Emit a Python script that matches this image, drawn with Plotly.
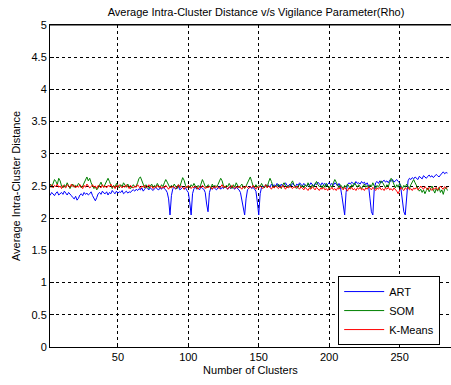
import plotly.graph_objects as go

art = [2.38,2.36,2.40,2.37,2.35,2.39,2.41,2.36,2.38,2.40,2.37,2.42,2.39,2.36,2.40,2.38,2.35,2.32,2.30,2.34,
       2.28,2.31,2.36,2.38,2.35,2.40,2.37,2.39,2.36,2.38,2.41,2.35,2.30,2.27,2.32,2.38,2.40,2.37,2.42,2.39,
       2.38,2.41,2.36,2.40,2.38,2.43,2.40,2.38,2.42,2.39,2.41,2.40,2.43,2.38,2.40,2.42,2.39,2.41,2.40,2.43,
       2.44,2.42,2.45,2.43,2.46,2.44,2.47,2.42,2.45,2.48,2.46,2.44,2.47,2.45,2.43,2.46,2.48,2.45,2.44,2.47,
       2.45,2.48,2.46,2.44,2.40,2.30,2.05,2.35,2.46,2.48,2.45,2.47,2.49,2.44,2.46,2.48,2.45,2.47,2.43,2.40,
       2.25,2.05,2.38,2.46,2.48,2.45,2.47,2.44,2.49,2.46,2.45,2.40,2.22,2.10,2.40,2.47,2.45,2.48,2.46,2.44,
       2.47,2.49,2.45,2.48,2.46,2.50,2.47,2.45,2.48,2.46,2.49,2.47,2.45,2.48,2.46,2.44,2.40,2.30,2.15,2.05,
       2.30,2.44,2.47,2.49,2.46,2.48,2.45,2.42,2.25,2.05,2.38,2.48,2.50,2.47,2.52,2.49,2.51,2.48,2.53,2.50,
       2.52,2.49,2.54,2.51,2.48,2.53,2.50,2.52,2.55,2.51,2.49,2.53,2.50,2.54,2.52,2.49,2.53,2.51,2.55,2.52,
       2.50,2.54,2.52,2.49,2.53,2.51,2.55,2.52,2.50,2.54,2.52,2.56,2.53,2.51,2.55,2.52,2.54,2.50,2.53,2.55,
       2.52,2.54,2.51,2.55,2.53,2.50,2.54,2.48,2.35,2.15,2.05,2.40,2.52,2.55,2.53,2.56,2.54,2.52,2.57,2.54,
       2.55,2.53,2.57,2.54,2.56,2.52,2.55,2.50,2.30,2.10,2.05,2.45,2.55,2.57,2.54,2.58,2.55,2.57,2.59,2.56,
       2.58,2.55,2.59,2.57,2.60,2.56,2.58,2.60,2.57,2.55,2.45,2.25,2.10,2.05,2.40,2.58,2.62,2.60,2.63,2.61,
       2.64,2.62,2.60,2.65,2.63,2.61,2.66,2.64,2.62,2.65,2.67,2.64,2.66,2.63,2.65,2.68,2.66,2.64,2.67,2.70,2.72,2.69,2.71,2.70]

som = [2.50,2.53,2.48,2.55,2.60,2.57,2.52,2.62,2.58,2.50,2.47,2.52,2.49,2.55,2.51,2.46,2.50,2.53,2.48,2.51,
       2.49,2.54,2.52,2.47,2.50,2.55,2.60,2.64,2.58,2.62,2.55,2.50,2.46,2.49,2.44,2.47,2.52,2.56,2.50,2.48,
       2.53,2.58,2.62,2.57,2.50,2.46,2.51,2.48,2.54,2.50,2.47,2.52,2.49,2.55,2.51,2.48,2.53,2.50,2.46,2.49,
       2.52,2.48,2.50,2.55,2.62,2.64,2.58,2.50,2.47,2.52,2.49,2.46,2.50,2.53,2.48,2.51,2.49,2.54,2.50,2.47,
       2.52,2.49,2.55,2.60,2.56,2.50,2.47,2.51,2.48,2.53,2.50,2.46,2.52,2.49,2.56,2.63,2.59,2.51,2.48,2.50,
       2.47,2.52,2.49,2.54,2.50,2.46,2.51,2.48,2.53,2.60,2.55,2.49,2.47,2.52,2.50,2.46,2.53,2.49,2.51,2.48,
       2.52,2.56,2.62,2.58,2.50,2.47,2.51,2.49,2.54,2.50,2.46,2.52,2.48,2.55,2.51,2.47,2.50,2.53,2.49,2.46,
       2.50,2.55,2.60,2.64,2.57,2.50,2.47,2.52,2.48,2.51,2.49,2.54,2.50,2.47,2.52,2.48,2.56,2.62,2.57,2.50,
       2.47,2.51,2.49,2.53,2.50,2.46,2.52,2.55,2.50,2.47,2.51,2.48,2.54,2.58,2.52,2.49,2.46,2.50,2.53,2.48,
       2.51,2.47,2.52,2.49,2.55,2.50,2.46,2.52,2.48,2.53,2.57,2.52,2.49,2.51,2.47,2.52,2.48,2.54,2.50,2.46,
       2.51,2.48,2.55,2.60,2.56,2.50,2.47,2.52,2.49,2.46,2.51,2.48,2.53,2.50,2.46,2.52,2.49,2.55,2.51,2.48,
       2.52,2.49,2.46,2.50,2.53,2.48,2.51,2.47,2.52,2.49,2.55,2.50,2.46,2.51,2.48,2.53,2.58,2.55,2.50,2.47,
       2.52,2.49,2.56,2.62,2.58,2.51,2.47,2.52,2.48,2.54,2.50,2.46,2.51,2.48,2.53,2.49,2.46,2.52,2.57,2.60,
       2.55,2.50,2.46,2.42,2.45,2.40,2.44,2.38,2.43,2.47,2.41,2.45,2.50,2.44,2.39,2.46,2.42,2.48,2.40,2.44,2.37,2.45,2.48,2.43]

kmeans = [2.50,2.48,2.52,2.47,2.51,2.49,2.53,2.48,2.50,2.46,2.51,2.49,2.47,2.52,2.50,2.48,2.53,2.49,2.51,2.47,
          2.50,2.48,2.52,2.49,2.46,2.51,2.48,2.53,2.50,2.47,2.49,2.52,2.48,2.50,2.46,2.51,2.49,2.47,2.52,2.48,
          2.50,2.47,2.51,2.49,2.53,2.48,2.50,2.46,2.51,2.48,2.52,2.49,2.47,2.50,2.48,2.52,2.49,2.46,2.51,2.48,
          2.47,2.50,2.48,2.52,2.49,2.46,2.50,2.48,2.51,2.47,2.49,2.52,2.48,2.50,2.46,2.49,2.47,2.51,2.48,2.50,
          2.46,2.49,2.47,2.51,2.48,2.45,2.49,2.47,2.50,2.48,2.46,2.49,2.52,2.47,2.50,2.48,2.45,2.49,2.47,2.51,
          2.48,2.46,2.49,2.47,2.50,2.48,2.45,2.49,2.47,2.51,2.48,2.46,2.49,2.47,2.50,2.48,2.45,2.49,2.47,2.50,
          2.48,2.46,2.49,2.52,2.47,2.50,2.48,2.45,2.49,2.47,2.51,2.48,2.46,2.49,2.47,2.50,2.48,2.45,2.49,2.47,
          2.50,2.48,2.46,2.49,2.47,2.51,2.48,2.45,2.49,2.47,2.50,2.48,2.46,2.49,2.52,2.47,2.50,2.48,2.45,2.49,
          2.47,2.50,2.48,2.46,2.49,2.47,2.51,2.48,2.45,2.49,2.47,2.50,2.48,2.46,2.49,2.47,2.50,2.48,2.45,2.49,
          2.47,2.44,2.48,2.46,2.43,2.47,2.45,2.49,2.46,2.44,2.48,2.45,2.43,2.47,2.45,2.48,2.44,2.46,2.43,2.47,
          2.45,2.48,2.44,2.46,2.43,2.47,2.45,2.49,2.46,2.44,2.48,2.45,2.42,2.47,2.45,2.48,2.44,2.46,2.43,2.47,
          2.45,2.48,2.44,2.46,2.43,2.47,2.45,2.49,2.46,2.44,2.48,2.45,2.43,2.47,2.45,2.48,2.44,2.46,2.43,2.47,
          2.45,2.48,2.44,2.46,2.43,2.47,2.45,2.42,2.38,2.44,2.48,2.45,2.43,2.47,2.45,2.48,2.44,2.46,2.43,2.47,
          2.45,2.48,2.44,2.46,2.50,2.47,2.45,2.49,2.46,2.44,2.48,2.45,2.43,2.47,2.45,2.48,2.44,2.46,2.50,2.47,2.45,2.49,2.46,2.48]

series_names = ["ART", "SOM", "K-Means"]
series_colors = ["#0000FF", "#008000", "#FF0000"]
x_ticks = [50, 100, 150, 200, 250]
y_ticks = [0, 0.5, 1, 1.5, 2, 2.5, 3, 3.5, 4, 4.5, 5]
y_ticklabels = ["0", "0.5", "1", "1.5", "2", "2.5", "3", "3.5", "4", "4.5", "5"]

FONT = "Liberation Sans, Arial, sans-serif"

fig = go.Figure()
for name, vals, col in zip(series_names, [art, som, kmeans], series_colors):
    fig.add_trace(go.Scatter(
        x=list(range(1, len(vals) + 1)), y=vals, mode="lines", name=name,
        line=dict(color=col, width=1),
    ))

axis_common = dict(
    showline=True, linecolor="black", linewidth=1,
    ticks="inside", ticklen=4, tickcolor="black",
    showgrid=True, gridcolor="black", gridwidth=1, griddash="3px,3px",
    zeroline=False, tickfont=dict(family=FONT, size=11, color="black"),
)

fig.update_layout(
    width=451, height=385,
    margin=dict(l=50, r=0, t=25, b=38),
    paper_bgcolor="white", plot_bgcolor="white",
    font=dict(family=FONT, size=11, color="black"),
    title=dict(text="Average Intra-Cluster Distance v/s Vigilance Parameter(Rho)",
               x=256 / 451, xanchor="center", y=1 - 12 / 385, yanchor="middle",
               font=dict(family=FONT, size=11, color="black")),
    showlegend=True,
    legend=dict(x=0.973, y=0.006, xanchor="right", yanchor="bottom",
                bgcolor="white", bordercolor="black", borderwidth=1,
                font=dict(family=FONT, size=11, color="black"),
                tracegroupgap=0, itemwidth=40),
)
fig.update_xaxes(range=[1.8, 286.5], tickvals=x_ticks, mirror=True,
                 title=dict(text="Number of Clusters", standoff=4,
                            font=dict(family=FONT, size=11, color="black")),
                 **axis_common)
fig.update_yaxes(range=[0, 5], tickvals=y_ticks, ticktext=y_ticklabels, mirror=False,
                 title=dict(text="Average Intra-Cluster Distance", standoff=8,
                            font=dict(family=FONT, size=11, color="black")),
                 **axis_common)
fig.add_shape(type="line", xref="paper", yref="paper", x0=0, x1=1, y0=1, y1=1,
              line=dict(color="black", width=1))

fig.write_html("out.html")
